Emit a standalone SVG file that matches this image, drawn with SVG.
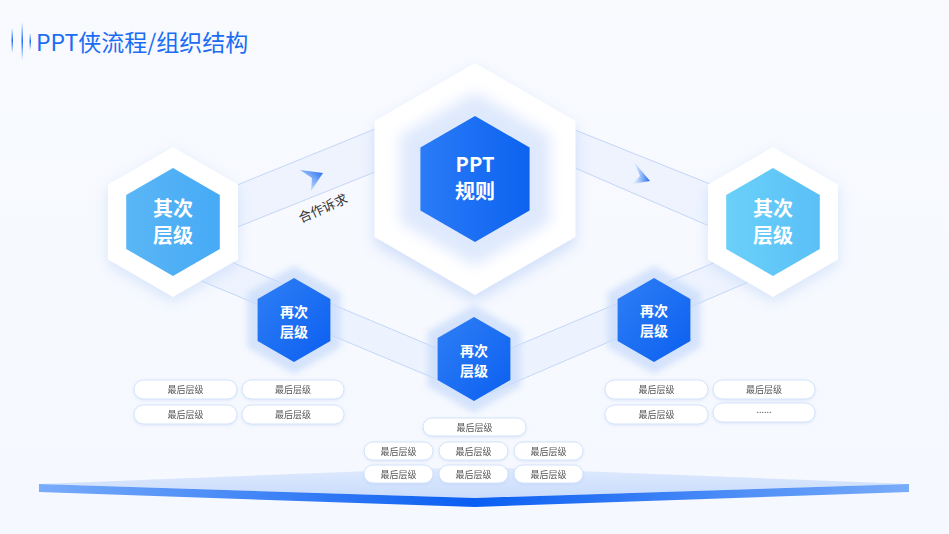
<svg xmlns="http://www.w3.org/2000/svg" width="949" height="534" viewBox="0 0 949 534">
<defs>
<style>
.band{fill:#eaf1fd;fill-opacity:0.7}
.bl{stroke:#c3d6f7;stroke-width:1;fill:none}
.outer{fill:#ffffff}
.ttl{font-family:"Noto Sans CJK SC","Noto Sans",sans-serif;font-size:23px;fill:#1b6cf2}
.big{font-family:"Noto Sans CJK SC","Noto Sans",sans-serif;font-weight:bold;font-size:20px;fill:#ffffff;text-anchor:middle}
.mid{font-family:"Noto Sans CJK SC","Noto Sans",sans-serif;font-weight:bold;font-size:14px;fill:#ffffff;text-anchor:middle}
.pill rect{fill:#ffffff;stroke:#d5e3fa;stroke-width:1}
.pill text{font-family:"Noto Sans CJK SC","Noto Sans",sans-serif;font-size:9px;fill:#555555;text-anchor:middle}
.lbl{font-family:"Noto Sans CJK SC","Noto Sans",sans-serif;font-size:13px;fill:#333333}
</style>
<linearGradient id="bg" x1="0" y1="0" x2="0" y2="1">
<stop offset="0" stop-color="#f8fafe"/><stop offset="1" stop-color="#f5f8fe"/>
</linearGradient>
<linearGradient id="gMain" x1="0" y1="0" x2="1" y2="0">
<stop offset="0" stop-color="#2a7bf7"/><stop offset="1" stop-color="#0d63f0"/>
</linearGradient>
<linearGradient id="gL" x1="0" y1="0" x2="1" y2="0">
<stop offset="0" stop-color="#5ab6f5"/><stop offset="1" stop-color="#46aaf6"/>
</linearGradient>
<linearGradient id="gR" x1="0" y1="0" x2="1" y2="0">
<stop offset="0" stop-color="#6ad0f9"/><stop offset="1" stop-color="#5ac0f7"/>
</linearGradient>
<linearGradient id="gS" x1="0" y1="0" x2="1" y2="1">
<stop offset="0" stop-color="#2f7ff5"/><stop offset="1" stop-color="#0b5ff0"/>
</linearGradient>
<linearGradient id="gBar" x1="0" y1="0" x2="1" y2="0">
<stop offset="0" stop-color="#79acfa"/><stop offset="0.5" stop-color="#0a5ef2"/><stop offset="1" stop-color="#79acfa"/>
</linearGradient>
<linearGradient id="gTop" x1="0" y1="0" x2="0" y2="1">
<stop offset="0" stop-color="#dce8fd"/><stop offset="1" stop-color="#c4d9fc"/>
</linearGradient>
<linearGradient id="gArrL" x1="0" y1="1" x2="1" y2="0">
<stop offset="0" stop-color="#9cc2fb" stop-opacity="0"/><stop offset="0.45" stop-color="#5c98f8" stop-opacity="0.6"/><stop offset="1" stop-color="#1463f0"/>
</linearGradient>
<linearGradient id="gArrR" x1="0" y1="0" x2="1" y2="0">
<stop offset="0" stop-color="#9cc2fb" stop-opacity="0"/><stop offset="0.5" stop-color="#5c98f8" stop-opacity="0.6"/><stop offset="1" stop-color="#1463f0"/>
</linearGradient>
<linearGradient id="gDeco" x1="0" y1="0" x2="0" y2="1">
<stop offset="0" stop-color="#1b6cf2" stop-opacity="0"/><stop offset="0.5" stop-color="#1b6cf2"/><stop offset="1" stop-color="#1b6cf2" stop-opacity="0"/>
</linearGradient>
<filter id="sh" x="-30%" y="-30%" width="160%" height="160%">
<feGaussianBlur stdDeviation="7"/>
</filter>
<filter id="soft" x="-30%" y="-30%" width="160%" height="160%">
<feGaussianBlur stdDeviation="3"/>
</filter>
<filter id="pillsh" x="-20%" y="-50%" width="140%" height="200%">
<feDropShadow dx="0" dy="1" stdDeviation="1.5" flood-color="#a9c4f3" flood-opacity="0.35"/>
</filter>
</defs>

<rect width="949" height="534" fill="url(#bg)"/>

<g id="title">
<rect x="11.5" y="28" width="1.5" height="25" fill="url(#gDeco)"/>
<rect x="21.5" y="22" width="1.5" height="38" fill="url(#gDeco)"/>
<rect x="29.5" y="33" width="1.5" height="17" fill="url(#gDeco)"/>
<text class="ttl" x="36" y="51">PPT侠流程/组织结构</text>
</g>

<g id="connectors">
<polygon class="band" points="220,192 375,129 375,172 220,234"/>
<line class="bl" x1="220" y1="192" x2="375" y2="129"/>
<line class="bl" x1="220" y1="234" x2="375" y2="172"/>
<polygon class="band" points="575,130 730,192 730,235 575,168"/>
<line class="bl" x1="575" y1="130" x2="730" y2="192"/>
<line class="bl" x1="575" y1="168" x2="730" y2="235"/>
<polygon class="band" points="210,253 460,358 460,389 180,272"/>
<line class="bl" x1="210" y1="253" x2="460" y2="358"/>
<line class="bl" x1="180" y1="272" x2="460" y2="389"/>
<polygon class="band" points="490,357 730,256 760,277 490,393"/>
<line class="bl" x1="490" y1="357" x2="730" y2="256"/>
<line class="bl" x1="490" y1="393" x2="760" y2="277"/>
<polygon points="300,170 323,173 311,191 312,178" fill="url(#gArrL)"/>
<polygon points="634,162 650,181 632,184 640,176" fill="url(#gArrR)"/>
<text class="lbl" transform="translate(301,223) rotate(-24)">合作诉求</text>
</g>

<g id="base">
<polygon points="39,484 475,467 909,484 475,498" fill="url(#gTop)" opacity="0.9"/>
<polygon points="39,484 475,498 909,484 909,492 475,507 39,492" fill="url(#gBar)"/>
</g>

<g id="node-center">
<polygon points="475,70 575.5,128 575.5,244 475,302 374.5,244 374.5,128" fill="#b7cff7" opacity="0.6" filter="url(#sh)"/>
<polygon class="outer" points="475,63 575.5,121 575.5,237 475,295 374.5,237 374.5,121"/>
<polygon points="475,92 550,135.5 550,222.5 475,266 400,222.5 400,135.5" fill="#dfe9fd" filter="url(#sh)"/>
<polygon points="475,116 529.6,147.5 529.6,210.5 475,242 420.4,210.5 420.4,147.5" fill="url(#gMain)"/>
<text class="big" x="475" y="172">PPT</text>
<text class="big" x="475" y="199">规则</text>
</g>

<g id="node-left">
<polygon points="173,152 238,189.5 238,264.5 173,302 108,264.5 108,189.5" fill="#c3d7f8" opacity="0.6" filter="url(#sh)"/>
<polygon class="outer" points="173,147 238,184.5 238,259.5 173,297 108,259.5 108,184.5"/>
<polygon points="173,168 219.8,195 219.8,249 173,276 126.2,249 126.2,195" fill="url(#gL)"/>
<text class="big" x="173" y="216">其次</text>
<text class="big" x="173" y="243">层级</text>
</g>

<g id="node-right">
<polygon points="773,152 838,189.5 838,264.5 773,302 708,264.5 708,189.5" fill="#c3d7f8" opacity="0.6" filter="url(#sh)"/>
<polygon class="outer" points="773,147 838,184.5 838,259.5 773,297 708,259.5 708,184.5"/>
<polygon points="773,168 819.8,195 819.8,249 773,276 726.2,249 726.2,195" fill="url(#gR)"/>
<text class="big" x="773" y="216">其次</text>
<text class="big" x="773" y="243">层级</text>
</g>

<g id="node-sub-left">
<polygon points="294,266 340.8,293 340.8,347 294,374 247.2,347 247.2,293" fill="#c9dcfb" opacity="0.75" filter="url(#soft)"/>
<polygon points="294,278 330.4,299 330.4,341 294,362 257.6,341 257.6,299" fill="url(#gS)"/>
<text class="mid" x="294" y="317">再次</text>
<text class="mid" x="294" y="337">层级</text>
</g>

<g id="node-sub-mid">
<polygon points="474,305 520.8,332 520.8,386 474,413 427.2,386 427.2,332" fill="#c9dcfb" opacity="0.75" filter="url(#soft)"/>
<polygon points="474,317 510.4,338 510.4,380 474,401 437.6,380 437.6,338" fill="url(#gS)"/>
<text class="mid" x="474" y="356">再次</text>
<text class="mid" x="474" y="376">层级</text>
</g>

<g id="node-sub-right">
<polygon points="654,266 700.8,293 700.8,347 654,374 607.2,347 607.2,293" fill="#c9dcfb" opacity="0.75" filter="url(#soft)"/>
<polygon points="654,278 690.4,299 690.4,341 654,362 617.6,341 617.6,299" fill="url(#gS)"/>
<text class="mid" x="654" y="316">再次</text>
<text class="mid" x="654" y="336">层级</text>
</g>

<g id="leaves-left" class="pill" filter="url(#pillsh)">
<rect x="134" y="380" width="103" height="19" rx="9.5"/><text x="185.5" y="393">最后层级</text>
<rect x="242" y="380" width="102" height="19" rx="9.5"/><text x="293" y="393">最后层级</text>
<rect x="134" y="405" width="103" height="19" rx="9.5"/><text x="185.5" y="418">最后层级</text>
<rect x="242" y="405" width="102" height="19" rx="9.5"/><text x="293" y="418">最后层级</text>
</g>

<g id="leaves-mid" class="pill" filter="url(#pillsh)">
<rect x="423" y="418" width="103" height="18" rx="9"/><text x="474.5" y="430.5">最后层级</text>
<rect x="364" y="442" width="69" height="18" rx="9"/><text x="398.5" y="454.5">最后层级</text>
<rect x="439" y="442" width="69" height="18" rx="9"/><text x="473.5" y="454.5">最后层级</text>
<rect x="514" y="442" width="69" height="18" rx="9"/><text x="548.5" y="454.5">最后层级</text>
<rect x="364" y="465" width="69" height="18" rx="9"/><text x="398.5" y="477.5">最后层级</text>
<rect x="439" y="465" width="69" height="18" rx="9"/><text x="473.5" y="477.5">最后层级</text>
<rect x="514" y="465" width="69" height="18" rx="9"/><text x="548.5" y="477.5">最后层级</text>
</g>

<g id="leaves-right" class="pill" filter="url(#pillsh)">
<rect x="605" y="380" width="103" height="19" rx="9.5"/><text x="656.5" y="393">最后层级</text>
<rect x="713" y="380" width="102" height="19" rx="9.5"/><text x="764" y="393">最后层级</text>
<rect x="605" y="405" width="103" height="19" rx="9.5"/><text x="656.5" y="418">最后层级</text>
<rect x="713" y="403" width="102" height="19" rx="9.5"/><text x="764" y="413">......</text>
</g>
</svg>
